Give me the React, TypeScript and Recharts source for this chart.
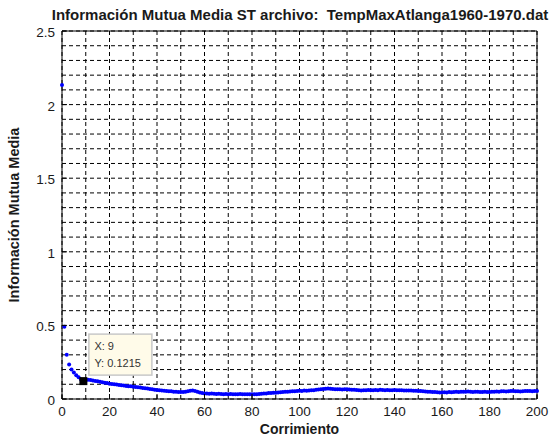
import React from 'react';
import { LineChart, Line, XAxis, YAxis, CartesianGrid, ReferenceArea, ReferenceDot } from 'recharts';

// Información mutua media por corrimiento (0..200)
const miValues = [
  2.133, 0.490, 0.300, 0.235, 0.200, 0.180, 0.162, 0.148, 0.133, 0.1215,
  0.128, 0.131, 0.129, 0.126, 0.123, 0.120, 0.117, 0.114, 0.111, 0.108,
  0.104, 0.102, 0.100, 0.098, 0.095, 0.093, 0.091, 0.089, 0.087, 0.086,
  0.084, 0.082, 0.079, 0.078, 0.075, 0.073, 0.071, 0.068, 0.066, 0.063,
  0.061, 0.060, 0.058, 0.056, 0.055, 0.053, 0.052, 0.050, 0.049, 0.048,
  0.047, 0.048, 0.050, 0.053, 0.056, 0.058, 0.055, 0.050, 0.045, 0.041,
  0.038, 0.037, 0.036, 0.037, 0.035, 0.034, 0.035, 0.034, 0.033, 0.034,
  0.033, 0.034, 0.033, 0.032, 0.033, 0.034, 0.033, 0.032, 0.033, 0.032,
  0.032, 0.033, 0.032, 0.034, 0.035, 0.037, 0.038, 0.040, 0.041, 0.042,
  0.043, 0.044, 0.046, 0.048, 0.049, 0.050, 0.051, 0.053, 0.052, 0.054,
  0.056, 0.055, 0.057, 0.056, 0.058, 0.060, 0.059, 0.062, 0.064, 0.066,
  0.068, 0.070, 0.071, 0.069, 0.068, 0.067, 0.066, 0.067, 0.065, 0.066,
  0.066, 0.064, 0.063, 0.062, 0.061, 0.060, 0.058, 0.059, 0.060, 0.061,
  0.060, 0.059, 0.061, 0.060, 0.062, 0.061, 0.060, 0.061, 0.059, 0.060,
  0.061, 0.060, 0.059, 0.060, 0.058, 0.057, 0.058, 0.057, 0.056, 0.056,
  0.055, 0.054, 0.053, 0.051, 0.050, 0.049, 0.048, 0.047, 0.046, 0.045,
  0.045, 0.046, 0.045, 0.047, 0.046, 0.048, 0.049, 0.048, 0.050, 0.049,
  0.050, 0.051, 0.049, 0.048, 0.050, 0.049, 0.047, 0.048, 0.049, 0.048,
  0.048, 0.049, 0.050, 0.051, 0.050, 0.052, 0.053, 0.051, 0.052, 0.054,
  0.055, 0.053, 0.052, 0.051, 0.052, 0.054, 0.055, 0.054, 0.053, 0.055,
  0.055,
];

const xTicks = [0, 10, 20, 30, 40, 50, 60, 70, 80, 90, 100, 110, 120, 130, 140, 150, 160, 170, 180, 190, 200];
const yTicks = [0, 0.1, 0.2, 0.3, 0.4, 0.5, 0.6, 0.7, 0.8, 0.9, 1, 1.1, 1.2, 1.3, 1.4, 1.5, 1.6, 1.7, 1.8, 1.9, 2, 2.1, 2.2, 2.3, 2.4, 2.5];

// data tip
const tipX = 9;
const tipY = 0.1215;

const data = miValues.map((v, i) => ({ lag: i, mi: v }));

const FONT = '"Liberation Sans", Arial, sans-serif';

const isMajorY = (v: number) => Math.abs(v * 2 - Math.round(v * 2)) < 1e-6;

const XTick = (props: any) => {
  const { x, y, payload } = props;
  if (payload.value % 20 !== 0) return null;
  return (
    <g>
      <line x1={x} x2={x} y1={y - 7} y2={y - 12} stroke="#000" />
      <text x={x} y={y + 10} textAnchor="middle" fontSize={13.5} fontFamily={FONT} fill="#1a1a1a">
        {payload.value}
      </text>
    </g>
  );
};

const YTick = (props: any) => {
  const { x, y, payload } = props;
  if (!isMajorY(payload.value)) return null;
  return (
    <g>
      <line x1={x + 7} x2={x + 12} y1={y} y2={y} stroke="#000" />
      <text x={x} y={y + 6} textAnchor="end" fontSize={13.5} fontFamily={FONT} fill="#1a1a1a">
        {payload.value}
      </text>
    </g>
  );
};

const DataTip = (props: any) => {
  const { cx, cy } = props;
  return (
    <g fontFamily={FONT}>
      <rect x={cx - 4} y={cy - 4} width={8} height={8} fill="#000" />
      <rect x={cx + 5.5} y={cy - 47} width={63} height={41} fill="#fffbe9" stroke="#c8c8c8" strokeWidth={1.5} />
      <text x={cx + 11} y={cy - 31} fontSize={11} fill="#333">X: {tipX}</text>
      <text x={cx + 11} y={cy - 14} fontSize={11} fill="#333">Y: {tipY}</text>
    </g>
  );
};

export default function App() {
  return (
    <div style={{ position: 'absolute', left: 0, top: 0, width: 556, height: 439, background: '#fff' }}>
      <div
        style={{
          position: 'absolute', left: 50, top: 6, width: 500, textAlign: 'center',
          fontFamily: FONT, fontWeight: 'bold', fontSize: 15, color: '#1a1a1a', whiteSpace: 'pre',
        }}
      >
        Información Mutua Media ST archivo:  TempMaxAtlanga1960-1970.dat
      </div>
      <LineChart width={556} height={439} data={data} margin={{ top: 31, right: 19, bottom: 0, left: 0 }}>
        <CartesianGrid stroke="#000" strokeDasharray="4 3" strokeWidth={1} />
        <XAxis
          dataKey="lag"
          type="number"
          domain={[0, 200]}
          ticks={xTicks}
          interval={0}
          height={40}
          axisLine={false}
          tickLine={false}
          tickSize={0}
          tickMargin={7}
          tick={<XTick />}
          label={{ value: 'Corrimiento', position: 'insideBottom', offset: 5, style: { fontFamily: FONT, fontWeight: 'bold', fontSize: 14, fill: '#1a1a1a' } }}
        />
        <YAxis
          type="number"
          domain={[0, 2.5]}
          ticks={yTicks}
          interval={0}
          width={62}
          axisLine={false}
          tickLine={false}
          tickSize={0}
          tickMargin={7}
          tick={<YTick />}
          label={{ value: 'Información Mutua Media', angle: -90, position: 'insideLeft', offset: 14, style: { textAnchor: 'middle', fontFamily: FONT, fontWeight: 'bold', fontSize: 14.5, fill: '#1a1a1a' } }}
        />
        <ReferenceArea x1={0} x2={200} y1={0} y2={2.5} fill="none" stroke="#000" strokeWidth={1} />
        <Line
          type="linear"
          dataKey="mi"
          stroke="none"
          dot={{ r: 2, fill: '#0000ff', stroke: 'none' }}
          isAnimationActive={false}
        />
        <ReferenceDot x={tipX} y={tipY} shape={<DataTip />} />
      </LineChart>
    </div>
  );
}
